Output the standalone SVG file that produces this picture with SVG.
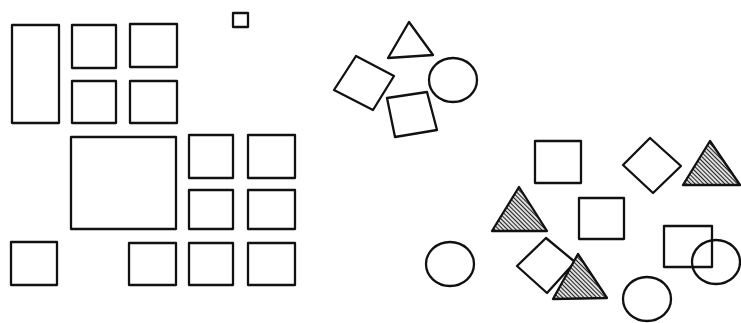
<svg xmlns="http://www.w3.org/2000/svg" width="741" height="323" viewBox="0 0 741 323">
<style>
.s{fill:none;stroke:#111;stroke-width:2.3;stroke-linejoin:round;stroke-linecap:round}
.w{fill:#fff;stroke:#111;stroke-width:2.3;stroke-linejoin:round}
.h{fill:url(#hatch);stroke:#111;stroke-width:2.3;stroke-linejoin:round}
</style>
<defs>
<pattern id="hatch" width="3" height="3" patternUnits="userSpaceOnUse" patternTransform="rotate(45)">
<rect width="3" height="3" fill="#fff"/>
<line x1="0" y1="1.5" x2="3" y2="1.5" stroke="#222" stroke-width="1.3"/>
</pattern>
</defs>
<rect width="741" height="323" fill="#fff"/>
<g id="grid">
<rect id="r1" class="s" x="12" y="25" width="47" height="98"/>
<rect id="r2" class="s" x="72" y="25" width="44" height="43"/>
<rect id="r3" class="s" x="130" y="24" width="47" height="43"/>
<rect id="r4" class="s" x="72" y="81" width="44" height="42"/>
<rect id="r5" class="s" x="130" y="81" width="47" height="42"/>
<rect id="r6" class="s" x="233" y="13" width="15" height="14"/>
<rect id="r7" class="s" x="71" y="137" width="105" height="92"/>
<rect id="r8" class="s" x="189" y="135" width="44" height="43"/>
<rect id="r9" class="s" x="248" y="135" width="47" height="43"/>
<rect id="r10" class="s" x="189" y="190" width="44" height="39"/>
<rect id="r11" class="s" x="248" y="190" width="47" height="39"/>
<rect id="r12" class="s" x="11" y="242" width="46" height="43"/>
<rect id="r13" class="s" x="129" y="243" width="47" height="42"/>
<rect id="r14" class="s" x="189" y="243" width="44" height="42"/>
<rect id="r15" class="s" x="248" y="243" width="47" height="42"/>
</g>
<g id="cluster">
<polygon id="t1" class="s" points="409,22 388,58 433,55"/>
<polygon id="q1" class="s" points="356,56 394,76 373,110 334,90"/>
<polygon id="q2" class="s" points="387,98 427,92 437,130 395,137"/>
<ellipse id="c1" class="s" cx="453" cy="80" rx="24" ry="22"/>
</g>
<g id="scatter">
<rect id="q3" class="s" x="535" y="141" width="46" height="42"/>
<polygon id="d1" class="s" points="650,138 681,166 653,193 623,165"/>
<polygon id="t2" class="h" points="710,141 683,185 740,185"/>
<polygon id="t3" class="h" points="519,187 492,231 547,231"/>
<rect id="q4" class="s" x="579" y="198" width="45" height="41"/>
<ellipse id="c2" class="s" cx="450" cy="264" rx="24" ry="22"/>
<polygon id="d2" class="s" points="546,238 575,262 547,293 517,266"/>
<polygon id="t4" class="h" points="578,254 553,299 607,298"/>
<rect id="q5" class="s" x="664" y="226" width="48" height="41"/>
<ellipse id="c3" class="s" cx="716" cy="262" rx="24" ry="22"/>
<ellipse id="c4" class="s" cx="647" cy="299" rx="24" ry="22"/>
</g>
</svg>
